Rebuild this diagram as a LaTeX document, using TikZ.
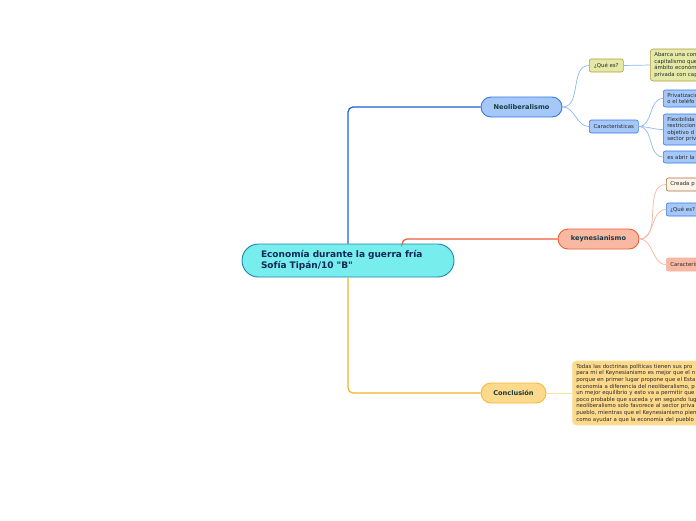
\documentclass[tikz,border=0pt]{standalone}
\usepackage{fontspec}
\setmainfont{DejaVu Sans}[Ligatures=TeXOff]
\usetikzlibrary{positioning}

\definecolor{rootfill}{RGB}{119,237,238}
\definecolor{rootline}{RGB}{26,134,176}
\definecolor{roottext}{RGB}{16,40,86}
\definecolor{maintext}{RGB}{24,58,66}
\definecolor{leaftext}{RGB}{40,40,40}
\definecolor{neofill}{RGB}{166,200,248}
\definecolor{neoline}{RGB}{52,120,229}
\definecolor{neobranch}{RGB}{30,95,214}
\definecolor{neotwig}{RGB}{143,184,240}
\definecolor{keyfill}{RGB}{248,184,162}
\definecolor{keyline}{RGB}{234,95,54}
\definecolor{keytwig}{RGB}{247,181,160}
\definecolor{confill}{RGB}{253,217,139}
\definecolor{conline}{RGB}{246,184,58}
\definecolor{conbranch}{RGB}{245,179,35}
\definecolor{contwig}{RGB}{253,227,160}
\definecolor{olivefill}{RGB}{228,233,166}
\definecolor{oliveline}{RGB}{184,154,58}
\definecolor{creamfill}{RGB}{253,244,234}
\definecolor{brownline}{RGB}{168,112,64}

\tikzset{
  rootbox/.style={draw=rootline, fill=rootfill, line width=0.9pt, rounded corners=16.5pt,
    text width=174pt, align=left, inner xsep=19pt, inner ysep=2pt, minimum height=33pt,
    font=\fontsize{9}{11}\selectfont\bfseries, text=roottext},
  mainbox/.style={draw, line width=0.9pt, rounded corners=10pt, minimum height=20pt,
    inner sep=0pt, font=\fontsize{6.6}{7}\selectfont\bfseries, text=maintext},
  leafbox/.style={draw, line width=0.6pt, rounded corners=2pt, inner xsep=4pt, inner ysep=2pt,
    anchor=west, align=left, font=\fontsize{5.4}{6.4}\selectfont, text=leaftext},
  branch/.style={line width=1.2pt, rounded corners=5pt},
  twig/.style={line width=0.7pt},
}

\begin{document}
\begin{tikzpicture}[x=1pt,y=-1pt]
\path[use as bounding box, clip] (0,0) rectangle (696,520);
\fill[white] (0,0) rectangle (696,520);

% central topic
\node[rootbox] (root) at (348,260.5) {Economía durante la guerra fría\\Sofía Tipán/10 "B"};

% main topics
\node[mainbox, fill=neofill, draw=neoline, minimum width=81pt] (neo) at (521.5,107) {Neoliberalismo};
\node[mainbox, fill=keyfill, draw=keyline, minimum width=81pt] (key) at (598.5,239) {keynesianismo};
\node[mainbox, fill=confill, draw=conline, minimum width=65pt] (con) at (513.5,393) {Conclusión};

\draw[branch, neobranch] (root.north) |- (neo.west);
\draw[branch, keyline] ([xshift=54pt]root.north) |- (key.west);
\draw[branch, conbranch] (root.south) |- (con.west);

% Neoliberalismo
\node[leafbox, fill=olivefill, draw=oliveline, minimum width=34pt, minimum height=13pt] (neoque) at (589,65.5) {¿Qué es?};
\node[leafbox, fill=neofill, draw=neoline, minimum width=49pt, minimum height=13pt] (neocar) at (589,126.5) {Características};
\node[leafbox, fill=olivefill, draw=oliveline, text width=70pt, minimum height=32pt, rounded corners=3pt] (neodef) at (650,65) {Abarca una con\\capitalismo que\\ámbito económ\\privada con cap};
\node[leafbox, fill=neofill, draw=neoline, text width=60pt, minimum height=17pt] (car1) at (663,98.5) {Privatizació\\o el teléfo};
\node[leafbox, fill=neofill, draw=neoline, text width=60pt, minimum height=31pt] (car2) at (663,129.5) {Flexibilida\\restriccion\\objetivo d\\sector priv};
\node[leafbox, fill=neofill, draw=neoline, text width=60pt, minimum height=12pt] (car3) at (663,157) {es abrir la};

\draw[twig, neotwig] (neo.east) to[out=0, in=180] (neoque.west);
\draw[twig, neotwig] (neo.east) to[out=0, in=180] (neocar.west);
\draw[twig, neotwig] (neoque.east) -- (neodef.west);
\draw[twig, neotwig] (neocar.east) to[out=0, in=180] (car1.west);
\draw[twig, neotwig] (neocar.east) to[out=0, in=180] (car2.west);
\draw[twig, neotwig] (neocar.east) to[out=0, in=180] (car3.west);

% keynesianismo
\node[leafbox, fill=creamfill, draw=brownline, text width=40pt, minimum height=13pt] (key1) at (666,184.5) {Creada p};
\node[leafbox, fill=neofill, draw=neoline, text width=40pt, minimum height=13pt] (key2) at (666,209.5) {¿Qué es?};
\node[leafbox, fill=keyfill, draw=keytwig, text width=40pt, minimum height=13pt] (key3) at (666,264.5) {Caracterís};

\draw[twig, keytwig] (key.east) to[out=0, in=180] (key1.west);
\draw[twig, keytwig] (key.east) to[out=0, in=180] (key2.west);
\draw[twig, keytwig] (key.east) to[out=0, in=180] (key3.west);

% Conclusion
\node[leafbox, fill=confill, draw=contwig, text width=140pt, minimum height=64pt, rounded corners=4pt, font=\fontsize{5.4}{6.6}\selectfont] (contxt) at (572,393)
  {Todas las doctrinas políticas tienen sus pro\\para mi el Keynesianismo es mejor que el n\\porque en primer lugar propone que el Esta\\economía a diferencia del neoliberalismo, p\\un mejor equilibrio y esto va a permitir que\\poco probable que suceda y en segundo lug\\neoliberalismo solo favorece al sector priva\\pueblo, mientras que el Keynesianismo pien\\como ayudar a que la economía del pueblo};
\draw[twig, contwig] (con.east) -- (contxt.west);
\end{tikzpicture}
\end{document}
